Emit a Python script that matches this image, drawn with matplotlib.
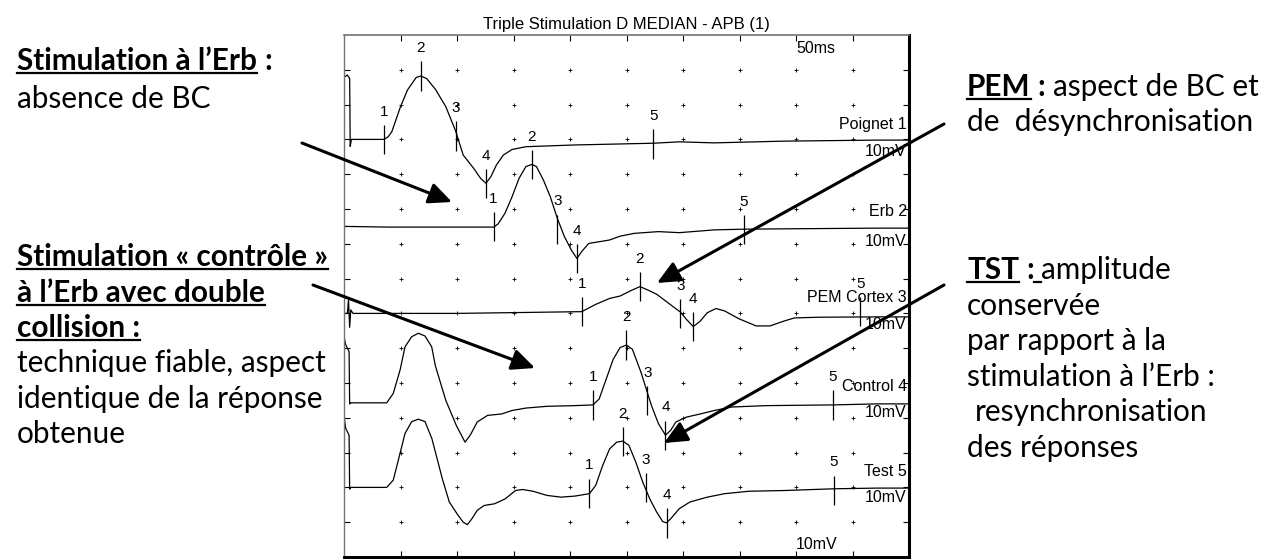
import matplotlib
matplotlib.use('Agg')
import matplotlib.pyplot as plt
import numpy as np
from matplotlib.lines import Line2D

W, H = 1273, 559
SCOPE_FONT = 'Liberation Sans'
NOTE_FONT = 'Lato'
NOTE_SIZE = 21.4

title = 'Triple Stimulation D MEDIAN - APB (1)'
sweep_label = '50ms'
gain_label = '10mV'

# traces: (time in ms, level in grid divisions from the top)
poignet = [(0.0, 0.83), (0.02, 1.21), (0.3, 1.15), (0.5, 1.25), (0.55, 3.2), (0.65, 3.0),
           (3.55, 3.0), (3.92, 2.92), (4.23, 2.78), (5.0, 2.06), (5.62, 1.58), (6.39, 1.22),
           (6.79, 1.18), (7.31, 1.25), (8.09, 1.56), (9.01, 2.06), (9.87, 2.75), (10.55, 3.45),
           (11.47, 3.83), (12.09, 4.12), (12.56, 4.26), (13.0, 4.07), (13.48, 3.74), (14.1, 3.45),
           (14.87, 3.29), (16.1, 3.21), (20.4, 3.16), (27.37, 3.11), (29.68, 3.07), (32.77, 3.1),
           (38.9, 3.05), (47.2, 3.02), (50.0, 3.02)]
erb = [(0.0, 5.5), (4.0, 5.52), (8.0, 5.52), (13.24, 5.52), (13.64, 5.43), (14.25, 5.12),
       (14.87, 4.65), (15.49, 4.12), (16.1, 3.78), (16.63, 3.72), (17.03, 3.78), (17.65, 4.17),
       (18.26, 4.65), (18.88, 5.27), (19.5, 5.79), (20.12, 6.18), (20.61, 6.42), (21.04, 6.22),
       (21.66, 5.99), (22.59, 5.94), (23.51, 5.89), (24.44, 5.78), (25.68, 5.7), (27.83, 5.65),
       (29.68, 5.68), (32.77, 5.6), (35.4, 5.58), (38.9, 5.57), (47.2, 5.55), (50.0, 5.55)]
pem = [(0.0, 8.0), (0.3, 8.0), (0.4, 7.6), (0.5, 8.4), (0.6, 7.9), (0.8, 8.0), (10.0, 8.0),
       (21.04, 7.95), (22.28, 7.74), (23.51, 7.57), (24.44, 7.5), (25.36, 7.35), (26.19, 7.23),
       (26.9, 7.33), (27.67, 7.45), (28.45, 7.64), (29.22, 7.83), (29.77, 7.96), (30.3, 8.17),
       (30.91, 8.38), (31.53, 8.22), (32.15, 7.98), (32.92, 7.86), (33.69, 7.93), (34.92, 8.15),
       (36.47, 8.36), (37.7, 8.36), (38.94, 8.22), (39.86, 8.13), (42.02, 8.11), (47.2, 8.1),
       (50.0, 8.1)]
control = [(0.02, 8.7), (0.15, 8.9), (0.45, 9.1), (0.5, 10.6), (0.6, 10.57), (3.78, 10.57),
           (4.36, 10.3), (4.96, 9.63), (5.4, 8.96), (5.99, 8.67), (6.58, 8.57), (7.17, 8.65),
           (7.76, 8.96), (8.09, 9.51), (9.01, 10.5), (9.94, 11.22), (10.71, 11.7), (11.17, 11.5),
           (11.79, 11.12), (12.71, 10.93), (13.95, 10.89), (14.87, 10.79), (16.1, 10.72),
           (17.96, 10.67), (20.43, 10.65), (22.03, 10.63), (22.58, 10.46), (23.2, 9.89),
           (23.82, 9.32), (24.44, 8.98), (24.99, 8.91), (25.52, 9.03), (26.29, 9.7), (26.84, 10.27),
           (27.21, 10.65), (27.83, 11.17), (28.45, 11.5), (28.91, 11.36), (29.37, 11.12),
           (30.3, 10.98), (31.53, 10.89), (32.77, 10.79), (34.3, 10.69), (37.4, 10.65),
           (43.25, 10.63), (47.2, 10.6), (50.0, 10.6)]
test = [(0.02, 11.0), (0.15, 11.3), (0.45, 11.5), (0.5, 13.05), (0.6, 13.0), (3.78, 13.0),
        (4.36, 12.79), (4.96, 12.02), (5.4, 11.45), (5.99, 11.11), (6.58, 11.04), (7.17, 11.11),
        (7.78, 11.6), (8.7, 12.75), (9.32, 13.42), (10.09, 13.8), (10.55, 14.0), (10.92, 14.07),
        (11.32, 13.9), (11.79, 13.66), (12.4, 13.52), (13.33, 13.47), (14.26, 13.33),
        (15.18, 13.09), (15.8, 13.06), (16.72, 13.11), (17.96, 13.23), (19.19, 13.28),
        (20.43, 13.25), (21.72, 13.18), (22.28, 12.94), (22.89, 12.37), (23.51, 11.89),
        (24.13, 11.7), (24.68, 11.67), (25.21, 11.79), (25.82, 12.27), (26.44, 12.85),
        (27.06, 13.33), (27.67, 13.71), (28.2, 13.98), (28.54, 14.02), (28.91, 13.9),
        (29.68, 13.61), (30.61, 13.42), (32.15, 13.28), (33.69, 13.18), (35.85, 13.11),
        (38.94, 13.09), (43.32, 13.04), (47.2, 13.02), (50.0, 13.02)]

# cursor marks 1..5 on each trace: (time ms, level)
poignet_marks = [(3.55, 3.0), (6.79, 1.18), (9.87, 2.9), (12.56, 4.27), (27.37, 3.13)]
erb_marks = [(13.24, 5.5), (16.63, 3.72), (18.88, 5.58), (20.61, 6.42), (35.4, 5.6)]
pem_marks = [(21.04, 7.95), (26.19, 7.23), (29.77, 8.0), (30.91, 8.38), (45.69, 7.95)]
control_marks = [(22.03, 10.63), (24.99, 8.91), (26.84, 10.5), (28.45, 11.5), (43.25, 10.63)]
test_marks = [(21.72, 13.17), (24.68, 11.68), (26.69, 13.0), (28.54, 14.02), (43.32, 13.08)]
mark_labels = ['1', '2', '3', '4', '5']

trace_names = ['Poignet 1', 'Erb 2', 'PEM Cortex 3', 'Control 4', 'Test 5']
name_rows = [2.56, 5.06, 7.53, 10.09, 12.53]
gain_rows = [3.35, 5.92, 8.33, 10.86, 13.3]

traces = [poignet, erb, pem, control, test]
marks = [poignet_marks, erb_marks, pem_marks, control_marks, test_marks]

# annotation text: (left px, baseline px, [(text, bold, underline), ...])
notes = [
    (17, 70, [('Stimulation à l’Erb', True, True), (' ', True, False), (':', True, False)]),
    (17, 108, [('absence de BC', False, False)]),
    (17, 266, [('Stimulation « contrôle »', True, True)]),
    (17, 302, [('à l’Erb avec double', True, True)]),
    (17, 337, [('collision :', True, True)]),
    (17, 372, [('technique fiable, aspect', False, False)]),
    (17, 408, [('identique de la réponse', False, False)]),
    (17, 443, [('obtenue', False, False)]),
    (967, 96, [('PEM', True, True), (' ', True, False), (':', True, False), (' ', False, False),
               ('aspect de BC et', False, False)]),
    (967, 131, [('de  désynchronisation', False, False)]),
    (967, 279, [('TST', True, True), (' ', True, False), (':', True, False), (' ', True, True),
                ('amplitude', False, False)]),
    (967, 315, [('conservée', False, False)]),
    (967, 350, [('par rapport à la', False, False)]),
    (967, 386, [('stimulation à l’Erb :', False, False)]),
    (967, 421, [(' ', False, False), ('resynchronisation', False, False)]),
    (967, 457, [('des réponses', False, False)]),
]

# arrows: (start px, tip px), image coordinates
arrows = [((302, 143), (452, 202)), ((944, 124), (657, 283)),
          ((313, 285), (535, 368)), ((944, 285), (664, 443))]

fig = plt.figure(figsize=(W / 100, H / 100), dpi=100)
ax = fig.add_axes([344 / W, (H - 557) / H, 565 / W, 522 / H])
ax.set_xlim(0, 50)
ax.set_ylim(15, 0)

cols = np.arange(5, 50, 5)
rows = np.arange(1, 15)
gx, gy = np.meshgrid(cols, rows)
ax.plot(gx.ravel(), gy.ravel(), '+', ms=2.5, mew=0.6, color='k')
ax.set_xticks(cols)
ax.set_yticks(rows)
ax.tick_params(direction='in', length=4, width=0.8, top=True, right=True,
               labelbottom=False, labelleft=False)
ax.spines['left'].set(color='0.45', lw=1)
ax.spines['top'].set(color='0.45', lw=1.2)
ax.spines['right'].set(color='k', lw=2.2)
ax.spines['bottom'].set(color='k', lw=2.2)

for tr, mk in zip(traces, marks):
    t, d = zip(*tr)
    ax.plot(t, d, color='k', lw=0.9)
    for (mt, md), lab in zip(mk, mark_labels):
        ax.vlines(mt, md - 0.42, md + 0.42, color='k', lw=0.9)
        ax.text(mt, md - 0.8, lab, ha='center', va='center', fontsize=11, family=SCOPE_FONT)

for name, nr, gr in zip(trace_names, name_rows, gain_rows):
    ax.text(49.8, nr, name, ha='right', va='center', fontsize=11.5, family=SCOPE_FONT)
    ax.text(49.8, gr, gain_label, ha='right', va='center', fontsize=11.5, family=SCOPE_FONT)
ax.text(40.0, 0.4, sweep_label, ha='left', va='center', fontsize=11.5, family=SCOPE_FONT)
ax.text(40.0, 14.65, gain_label, ha='left', va='center', fontsize=11.5, family=SCOPE_FONT)

fig.text(626 / W, 1 - 24 / H, title, ha='center', va='center', fontsize=12, family=SCOPE_FONT)

for (sx, sy), (ex, ey) in arrows:
    ax.annotate('', xy=(ex, H - ey), xycoords='figure pixels',
                xytext=(sx, H - sy), textcoords='figure pixels', annotation_clip=False,
                arrowprops=dict(arrowstyle='-|>,head_length=0.7,head_width=0.32',
                                lw=2.2, color='k', shrinkA=0, shrinkB=0, mutation_scale=20))

renderer = fig.canvas.get_renderer()


def space_width(weight):
    a = fig.text(0, 0, 'n n', fontsize=NOTE_SIZE, family=NOTE_FONT, fontweight=weight)
    b = fig.text(0, 0, 'nn', fontsize=NOTE_SIZE, family=NOTE_FONT, fontweight=weight)
    w = a.get_window_extent(renderer).width - b.get_window_extent(renderer).width
    a.remove()
    b.remove()
    return w


space_w = {'bold': space_width('bold'), 'normal': space_width('normal')}

for x, y, parts in notes:
    for text, bold, under in parts:
        weight = 'bold' if bold else 'normal'
        if text == ' ':
            w = space_w[weight]
        else:
            t = fig.text(x / W, 1 - y / H, text, ha='left', va='baseline',
                         fontsize=NOTE_SIZE, family=NOTE_FONT, fontweight=weight)
            w = t.get_window_extent(renderer).width
        if under:
            fig.add_artist(Line2D([x / W, (x + w) / W], [1 - (y + 3) / H] * 2,
                                  color='k', lw=1.6))
        x += w

fig.savefig('out.png', dpi=100)
